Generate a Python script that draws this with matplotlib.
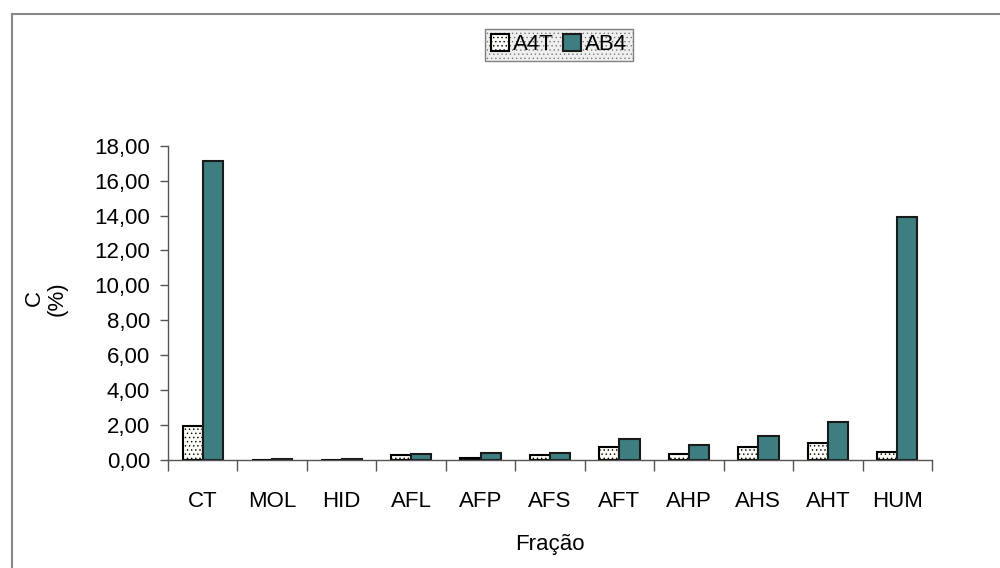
import numpy as np
import matplotlib.pyplot as plt
from matplotlib.lines import Line2D

plt.rcParams['font.family'] = ['Liberation Sans', 'DejaVu Sans']

# frações e teores de C (%)
fracoes = ['CT', 'MOL', 'HID', 'AFL', 'AFP', 'AFS', 'AFT', 'AHP', 'AHS', 'AHT', 'HUM']
a4t = [1.95, 0.02, 0.02, 0.30, 0.12, 0.30, 0.74, 0.33, 0.76, 0.99, 0.47]
ab4 = [17.14, 0.05, 0.05, 0.35, 0.40, 0.40, 1.20, 0.87, 1.39, 2.17, 13.94]

fig = plt.figure(figsize=(10, 5.68), dpi=100)
ax = fig.add_axes([0.168, 0.19, 0.764, 0.5535])

x = np.arange(len(fracoes))
w = 0.29
plt.rcParams['hatch.color'] = '#cfcfcf'
plt.rcParams['hatch.linewidth'] = 0.5
ax.bar(x - w / 2, a4t, w, color='#fbfbf6', edgecolor='black', linewidth=1.5,
       hatch='....', label='A4T')
ax.bar(x + w / 2, ab4, w, color='#3d7f80', edgecolor='#1a1a1a', linewidth=1.5,
       label='AB4')

ax.set_xlim(-0.5, len(fracoes) - 0.5)
ax.set_ylim(0, 18)
ax.set_yticks(np.arange(0, 19, 2))
ax.yaxis.set_major_formatter(plt.FuncFormatter(lambda v, p: ('%.2f' % v).replace('.', ',')))
ax.set_xticks(x)
ax.set_xticklabels(fracoes)
ax.set_xticks(np.arange(-0.5, len(fracoes)), minor=True)
ax.tick_params(axis='x', which='major', length=0, pad=22, labelsize=16)
ax.tick_params(axis='x', which='minor', length=8, width=1, color='#555555')
ax.tick_params(axis='y', length=6, width=1, color='#555555', labelsize=16, pad=7)

for s in ['top', 'right']:
    ax.spines[s].set_visible(False)
for s in ['left', 'bottom']:
    ax.spines[s].set_color('#555555')
    ax.spines[s].set_linewidth(1)

ax.set_xlabel('Fração', fontsize=16, labelpad=16)
fig.text(0.046, 0.475, 'C\n(%)', rotation=90, fontsize=16, ha='center', va='center',
         multialignment='center', linespacing=1.1)

leg = fig.legend(loc='center', bbox_to_anchor=(0.559, 0.921), ncol=2, fontsize=16,
                 frameon=True, fancybox=False, handlelength=0.8, handleheight=0.8,
                 handletextpad=0.2, columnspacing=0.4, borderpad=0.25)
leg.get_frame().set_edgecolor('#666666')
leg.get_frame().set_facecolor('#ececec')
leg.get_frame().set_hatch('....')

# moldura externa
fig.add_artist(Line2D([0.012, 0.012], [0.0, 0.975], color='#888888', lw=1.5))
fig.add_artist(Line2D([0.012, 1.0], [0.975, 0.975], color='#888888', lw=1.5))

fig.savefig('out.png', dpi=100)
